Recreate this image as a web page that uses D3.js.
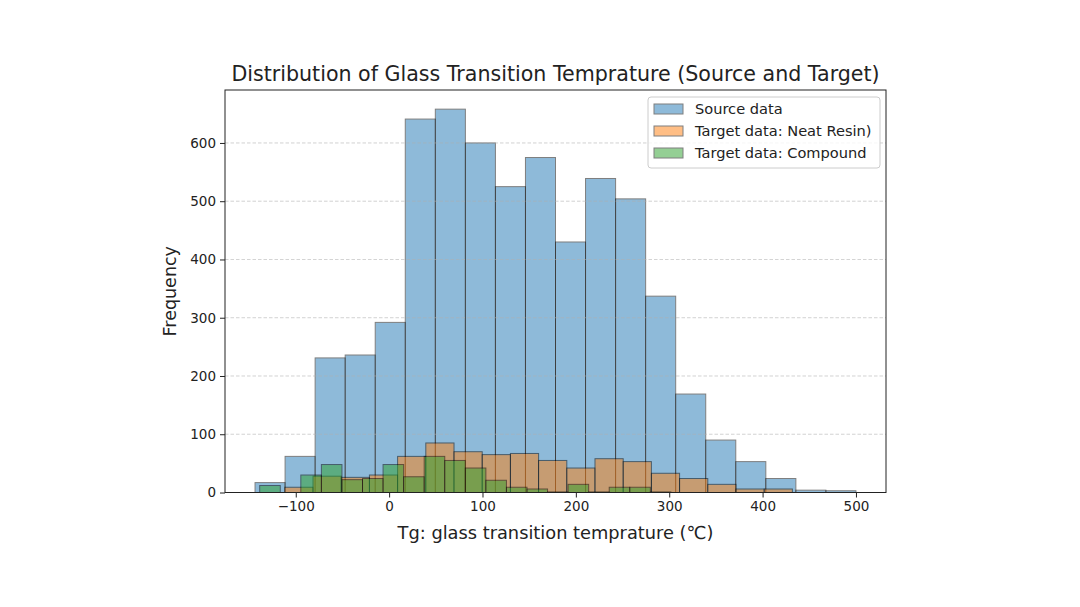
<!DOCTYPE html>
<html>
<head>
<meta charset="utf-8">
<script src="https://cdn.jsdelivr.net/npm/d3@7"></script>
<style>
  body { margin: 0; background: #fff; }
  svg { display: block; font-family: "DejaVu Sans", sans-serif; }
</style>
</head>
<body>
<div id="chart"></div>
<script>
// histogram counts
var sourceCounts = [17, 62, 231, 236, 292, 641, 658, 600, 525, 575, 430, 539, 504, 337, 169, 90, 53, 24, 4, 3];
var sourceRange = [-143.6, 500];
var resinCounts = [9, 28, 26, 30, 62, 85, 70, 65, 67, 55, 42, 58, 53, 33, 24, 14, 6, 6];
var resinRange = [-111.7, 431.9];
var compoundCounts = [12, 0, 30, 48, 22, 24, 48, 27, 62, 55, 42, 21, 9, 6, 1, 14, 1, 9, 9, 1];
var compoundRange = [-138.6, 301.8];

var seriesNames = ["Source data", "Target data: Neat Resin)", "Target data: Compound"];
var seriesColors = ["#1f77b4", "#ff7f0e", "#2ca02c"];
var xTicks = [-100, 0, 100, 200, 300, 400, 500];
var yTicks = [0, 100, 200, 300, 400, 500, 600];

var width = 1080, height = 607;
var margin = { top: 90, right: 194, bottom: 114.5, left: 225 };
var w = width - margin.left - margin.right,
  h = height - margin.top - margin.bottom;

// turn counts + range into bins like plt.hist(bins=n)
function makeBins(counts, range) {
  var step = (range[1] - range[0]) / counts.length;
  return counts.map(function (c, i) {
    return { x0: range[0] + i * step, x1: range[0] + (i + 1) * step, n: c };
  });
}

var series = [
  makeBins(sourceCounts, sourceRange),
  makeBins(resinCounts, resinRange),
  makeBins(compoundCounts, compoundRange),
];

var xmin = d3.min(series, function (s) { return s[0].x0; }),
  xmax = d3.max(series, function (s) { return s[s.length - 1].x1; }),
  ymax = d3.max(sourceCounts);
var pad = (xmax - xmin) * 0.05;

var x = d3.scaleLinear().domain([xmin - pad, xmax + pad]).range([0, w]);
var y = d3.scaleLinear().domain([0, ymax * 1.05]).range([h, 0]);

var svg = d3.select("#chart").append("svg")
  .attr("width", width)
  .attr("height", height);

var g = svg.append("g")
  .attr("transform", "translate(" + margin.left + "," + margin.top + ")");

// bars
series.forEach(function (bins, k) {
  g.append("g").selectAll("rect")
    .data(bins)
    .enter().append("rect")
    .attr("x", function (d) { return x(d.x0); })
    .attr("width", function (d) { return x(d.x1) - x(d.x0); })
    .attr("y", function (d) { return y(d.n); })
    .attr("height", function (d) { return h - y(d.n); })
    .attr("fill", seriesColors[k])
    .attr("stroke", "#000")
    .attr("stroke-width", 1)
    .attr("opacity", 0.5);
});

// dashed y grid, drawn over bars as in matplotlib
g.append("g").selectAll("line")
  .data(yTicks.slice(1))
  .enter().append("line")
  .attr("x1", 0).attr("x2", w)
  .attr("y1", function (d) { return y(d); })
  .attr("y2", function (d) { return y(d); })
  .attr("stroke", "#b0b0b0")
  .attr("stroke-width", 0.8)
  .attr("stroke-dasharray", "3.5,2")
  .attr("opacity", 0.7);

// axes
var xAxis = g.append("g")
  .attr("transform", "translate(0," + h + ")")
  .call(d3.axisBottom(x).tickValues(xTicks).tickSize(5).tickPadding(4)
    .tickFormat(function (d) { return d < 0 ? "\u2212" + Math.abs(d) : d; }));
var yAxis = g.append("g")
  .call(d3.axisLeft(y).tickValues(yTicks).tickSize(5).tickPadding(4));

[xAxis, yAxis].forEach(function (a) {
  a.select(".domain").remove();
  a.selectAll("text").attr("font-size", 13.5).attr("fill", "#222")
    .attr("font-family", "DejaVu Sans, sans-serif");
  a.selectAll("line").attr("stroke", "#222");
});

g.append("rect")
  .attr("width", w).attr("height", h)
  .attr("fill", "none")
  .attr("stroke", "#222")
  .attr("stroke-width", 1);

// title + labels
svg.append("text")
  .attr("x", margin.left + w / 2)
  .attr("y", 81)
  .attr("text-anchor", "middle")
  .attr("font-size", 20.6)
  .attr("fill", "#222")
  .text("Distribution of Glass Transition Temprature (Source and Target)");

svg.append("text")
  .attr("x", margin.left + w / 2)
  .attr("y", 539)
  .attr("text-anchor", "middle")
  .attr("font-size", 17.8)
  .attr("fill", "#222")
  .text("Tg: glass transition temprature (\u2103)");

svg.append("text")
  .attr("transform", "translate(176," + (margin.top + h / 2) + ") rotate(-90)")
  .attr("text-anchor", "middle")
  .attr("font-size", 17.5)
  .attr("fill", "#222")
  .text("Frequency");

// legend
var legend = svg.append("g").attr("transform", "translate(648,97)");
legend.append("rect")
  .attr("width", 232).attr("height", 71)
  .attr("rx", 3)
  .attr("fill", "#fff").attr("fill-opacity", 0.8)
  .attr("stroke", "#ccc");
seriesNames.forEach(function (name, i) {
  var row = legend.append("g").attr("transform", "translate(6," + (7 + i * 22) + ")");
  row.append("rect")
    .attr("width", 29).attr("height", 10)
    .attr("fill", seriesColors[i])
    .attr("stroke", "#000")
    .attr("opacity", 0.5);
  row.append("text")
    .attr("x", 41).attr("y", 10)
    .attr("font-size", 14.6)
    .attr("fill", "#222")
    .text(name);
});
</script>
</body>
</html>
